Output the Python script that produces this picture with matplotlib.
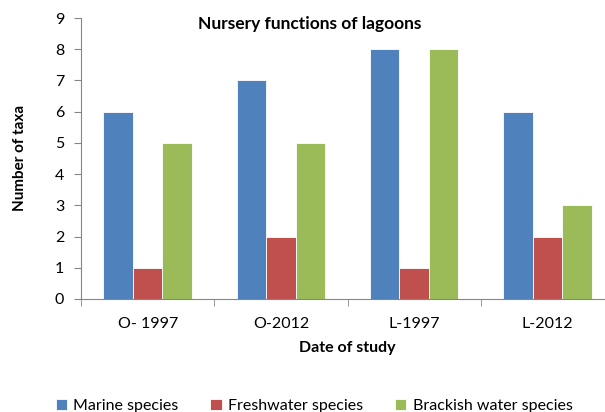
import matplotlib.pyplot as plt
import numpy as np

# data
dates = ["O- 1997", "O-2012", "L-1997", "L-2012"]
marine = [6, 7, 8, 6]
freshwater = [1, 2, 1, 2]
brackish = [5, 5, 8, 3]
series_names = ["Marine species", "Freshwater species", "Brackish water species"]
colors = ["#4F81BD", "#C0504D", "#9BBB59"]

plt.rcParams['font.family'] = ['Lato', 'DejaVu Sans']

W, H = 605, 412
fig = plt.figure(figsize=(W / 100, H / 100), dpi=100)
# axes area in pixels: left 81, right ~614 (cut off by image), top 18, bottom 299
ax = fig.add_axes([81 / W, 1 - 299 / H, (614 - 81) / W, (299 - 18) / H])

x = np.arange(len(dates))
bw = 0.222
for i, (vals, c, name) in enumerate(zip([marine, freshwater, brackish], colors, series_names)):
    ax.bar(x + (i - 1) * bw, vals, bw, color=c, label=name,
           edgecolor='white', linewidth=0.6)

ax.set_xlim(-0.5, len(dates) - 0.5)
ax.set_ylim(0, 9)
ax.set_yticks(range(0, 10))
ax.set_xticks(x)
ax.set_xticklabels(dates)
ax.set_xticks(np.arange(-0.5, len(dates)), minor=True)
ax.tick_params(axis='x', which='major', length=0, pad=13, labelsize=11.5)
ax.tick_params(axis='x', which='minor', length=5, color='#868686')
ax.tick_params(axis='y', length=5, color='#868686', labelsize=11.5, pad=7)

for s in ['top', 'right']:
    ax.spines[s].set_visible(False)
for s in ['left', 'bottom']:
    ax.spines[s].set_color('#868686')

ax.set_xlabel("Date of study", fontsize=11.5, fontweight='bold', labelpad=7)
fig.text(20 / W, 1 - 158 / H, "Number of taxa", rotation=90, fontsize=11,
         fontweight='bold', ha='center', va='center')
fig.text(310 / W, 1 - 24 / H, "Nursery functions of lagoons", fontsize=12.5,
         fontweight='bold', ha='center', va='center')

fig.legend(loc='center', bbox_to_anchor=(314 / W, 1 - 406 / H), ncol=3,
           frameon=False, fontsize=11.5, handlelength=0.7, handleheight=0.7,
           handletextpad=0.4, columnspacing=2.0)

fig.savefig("out.png", dpi=100)
